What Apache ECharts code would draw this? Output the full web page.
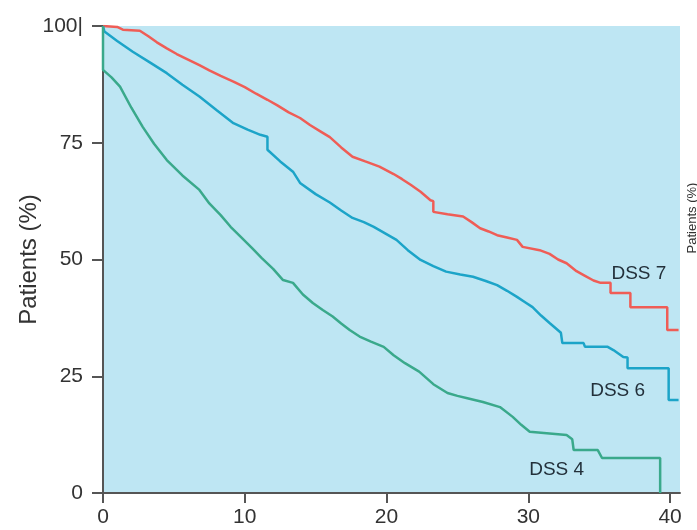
<!DOCTYPE html>
<html>
<head>
<meta charset="utf-8">
<script src="https://cdn.jsdelivr.net/npm/echarts@6/dist/echarts.min.js"></script>
<style>
html,body{margin:0;padding:0;background:#fff;}
#chart{width:697px;height:530px;}
</style>
</head>
<body>
<div id="chart"></div>
<script>
// Kaplan-Meier style curves: [time, percent]
const dss7 = [
  [0,100],[1.0,99.8],[1.4,99.2],[2.6,99],[3.2,97.8],[3.8,96.5],[4.5,95.2],[5.2,94],[6.0,92.8],
  [6.8,91.6],[7.5,90.5],[8.3,89.3],[9.2,88.1],[10.0,86.9],[10.8,85.5],[11.6,84.2],[12.3,83],
  [13.1,81.5],[13.9,80.3],[14.6,78.8],[15.3,77.5],[16.0,76.2],[16.8,74],[17.6,72],[18.5,71],
  [19.5,69.9],[20.5,68.3],[21.1,67.2],[21.7,66],[22.4,64.5],[23.1,62.7],[23.3,62.5],[23.3,60.2],
  [24.3,59.7],[25.4,59.2],[26.0,58],[26.6,56.7],[27.2,56],[27.8,55.2],[28.5,54.7],[29.2,54.2],
  [29.6,52.7],[30.8,52],[31.5,51.2],[32.1,50],[32.7,49.2],[33.4,47.5],[34.0,46.5],[34.6,45.5],
  [35.1,45],[35.8,45],[35.8,42.8],[37.2,42.8],[37.2,39.8],[39.8,39.8],[39.8,34.9],[40.6,34.9]
];
const dss6 = [
  [0,100],[0.1,98.8],[1.0,96.8],[2.1,94.5],[3.3,92.2],[4.5,89.9],[5.6,87.4],[6.8,84.9],[8.0,82],
  [9.2,79.2],[10.2,77.8],[11.1,76.7],[11.6,76.3],[11.6,73.5],[12.5,71],[13.4,68.8],[13.9,66.4],
  [15.0,64],[16.0,62.2],[16.8,60.5],[17.6,58.9],[18.4,58],[19.1,57],[19.9,55.6],[20.7,54.2],
  [21.5,52],[22.4,49.9],[23.3,48.6],[24.2,47.4],[25.2,46.8],[26.1,46.3],[27.0,45.4],[27.8,44.5],
  [28.5,43.3],[29.2,42],[29.8,40.8],[30.3,39.8],[30.9,38],[31.5,36.4],[32.3,34.3],[32.4,32.1],
  [33.9,32.1],[34.0,31.3],[35.6,31.3],[36.0,30.6],[36.7,29.1],[37.0,29],[37.0,26.7],[39.9,26.7],
  [39.9,19.9],[40.6,19.9]
];
const dss4 = [
  [0,100],[0,90.6],[0.6,89],[1.2,87],[2.0,82.5],[2.8,78.4],[3.6,74.8],[4.5,71.3],[5.6,68],
  [6.8,64.9],[7.5,62],[8.3,59.5],[9.0,57],[9.7,54.9],[10.5,52.5],[11.2,50.3],[12.0,48],[12.7,45.6],
  [13.4,45],[14.1,42.5],[14.8,40.7],[15.5,39.2],[16.2,37.8],[16.8,36.3],[17.4,34.9],[18.1,33.5],
  [18.9,32.4],[19.8,31.3],[20.5,29.5],[21.3,27.8],[22.3,26],[23.3,23.3],[24.3,21.4],[25.0,20.8],
  [25.7,20.3],[26.8,19.5],[28.0,18.4],[28.9,16.3],[29.5,14.6],[30.1,13.1],[31.3,12.8],[32.7,12.4],
  [33.1,11.5],[33.2,9.2],[34.9,9.2],[35.2,7.5],[39.3,7.5],[39.3,0]
];
const xTicks = [0,10,20,30,40];
const yTicks = [0,25,50,75,100];
const seriesNames = ['DSS 7','DSS 6','DSS 4'];
const seriesColors = ['#ef5d56','#1ca4c8','#3aa98b'];
const labelPoints = [[37.8,47.0],[36.3,21.9],[32.0,5.0]];
const yAxisTitle = 'Patients (%)';

const chart = echarts.init(document.getElementById('chart'), null, {renderer:'canvas'});
const font = 'Liberation Sans, Arial, sans-serif';
const datasets = [dss7, dss6, dss4];

const series = datasets.map((d,i)=>({
  name: seriesNames[i],
  type: 'line',
  data: d,
  symbol: 'none',
  lineStyle: {color: seriesColors[i], width: 2.5},
  z: 3,
  animation: false
}));
series.push({
  type: 'scatter',
  data: labelPoints.map((p,i)=>({value:p, name:seriesNames[i]})),
  symbolSize: 1,
  itemStyle: {opacity: 0},
  label: {
    show: true, position: 'inside',
    formatter: p => p.name,
    fontFamily: font, fontSize: 19, color: '#23303a', opacity: 1
  },
  silent: true, z: 4, animation: false
});

chart.setOption({
  animation: false,
  backgroundColor: '#ffffff',
  grid: {left: 103, right: 17, top: 26, bottom: 37, show: true, backgroundColor: '#bee6f3', borderWidth: 0},
  xAxis: {
    type: 'value', min: 0, max: 40.7,
    axisLine: {show: true, lineStyle: {color: '#555', width: 2}},
    axisTick: {show: true, length: 10, inside: false, customValues: xTicks, lineStyle: {color: '#555', width: 2}},
    axisLabel: {customValues: xTicks, fontFamily: font, fontSize: 21, color: '#333', margin: 14},
    splitLine: {show: false}
  },
  yAxis: {
    type: 'value', min: 0, max: 100, interval: 25,
    axisLine: {show: true, lineStyle: {color: '#555', width: 2}},
    axisTick: {show: true, length: 11, lineStyle: {color: '#555', width: 2}},
    axisLabel: {fontFamily: font, fontSize: 21, color: '#333', margin: 20,
      formatter: v => (v === 100 ? '100|' : String(v))},
    splitLine: {show: false},
    name: yAxisTitle, nameLocation: 'middle', nameGap: 62, nameRotate: 90, nameMoveOverlap: false,
    nameTextStyle: {fontFamily: font, fontSize: 24, color: '#333'}
  },
  graphic: [{
    type: 'text', x: 686, y: 218, rotation: Math.PI/2,
    style: {text: yAxisTitle, fontFamily: font, fontSize: 13, fill: '#333', align: 'center', verticalAlign: 'top'}
  }],
  series: series
});
</script>
</body>
</html>
